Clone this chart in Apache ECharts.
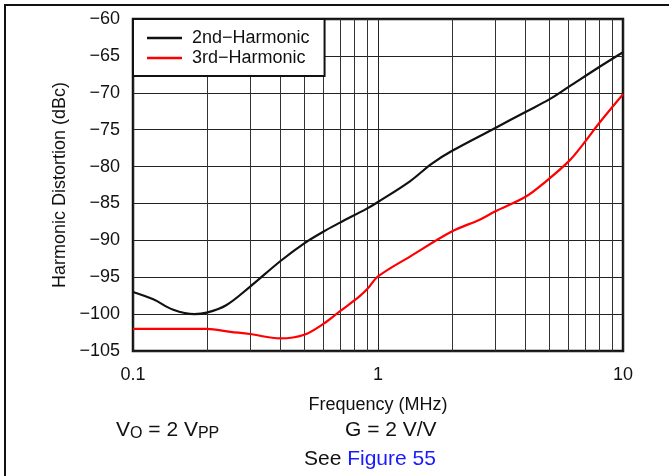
<!DOCTYPE html>
<html>
<head>
<meta charset="utf-8">
<script src="https://cdn.jsdelivr.net/npm/echarts@6/dist/echarts.min.js"></script>
<style>html,body{margin:0;padding:0;background:#fff}#c{width:669px;height:476px}</style>
</head>
<body>
<div id="c"></div>
<script>
// Frequency (MHz)
const freq2 = [0.1, 0.121, 0.146, 0.178, 0.2, 0.24, 0.3, 0.4, 0.5, 0.6, 0.7, 0.9, 1.0, 1.35, 1.66, 2.0, 3.0, 4.0, 5.0, 6.0, 8.0, 10];
const h2 = [-97.0, -98.0, -99.4, -100.0, -99.8, -98.8, -96.3, -92.8, -90.4, -88.8, -87.6, -85.7, -84.8, -82.0, -79.6, -77.9, -74.8, -72.6, -70.9, -69.2, -66.5, -64.5];
const freq3 = [0.1, 0.2, 0.25, 0.3, 0.4, 0.5, 0.6, 0.7, 0.84, 0.91, 1.0, 1.35, 2.0, 2.6, 3.0, 4.0, 4.85, 6.0, 6.9, 8.0, 10];
const h3 = [-102.0, -102.0, -102.4, -102.7, -103.3, -102.8, -101.3, -99.6, -97.6, -96.5, -94.9, -92.2, -88.8, -87.2, -86.1, -84.1, -82.0, -79.3, -76.9, -74.1, -70.2];
const minorGrid = [0.2, 0.3, 0.4, 0.5, 0.6, 0.7, 0.8, 0.9, 2, 3, 4, 5, 6, 7, 8, 9];
const seriesNames = ['2nd\u2212Harmonic', '3rd\u2212Harmonic'];
const yTicks = {min: -105, max: -60, step: 5};

const font = 'Liberation Sans, Arial, sans-serif';
const chart = echarts.init(document.getElementById('c'), null, {renderer: 'canvas'});
chart.setOption({
  animation: false,
  backgroundColor: '#fff',
  textStyle: {fontFamily: font},
  grid: {left: 133, top: 19, width: 490, height: 332, show: true, borderColor: '#111', borderWidth: 2.5, containLabel: false},
  legend: {
    orient: 'vertical', left: 133, top: 19,
    padding: [9, 15, 8, 14], itemGap: 0,
    itemWidth: 35, itemHeight: 2.5, icon: 'rect',
    backgroundColor: '#fff', borderColor: '#111', borderWidth: 2,
    textStyle: {fontFamily: font, fontSize: 18, color: '#111', lineHeight: 20, padding: [0, 0, 0, 5]},
    data: seriesNames
  },
  xAxis: {
    type: 'log', logBase: 10, min: 0.1, max: 10,
    name: 'Frequency (MHz)', nameLocation: 'middle', nameGap: 45,
    nameTextStyle: {fontFamily: font, fontSize: 18, color: '#111'},
    axisLine: {show: false}, axisTick: {show: false},
    axisLabel: {fontFamily: font, fontSize: 18, color: '#111', margin: 15,
      formatter: v => String(v)},
    splitLine: {show: true, lineStyle: {color: '#222', width: 1}}
  },
  yAxis: {
    type: 'value', min: yTicks.min, max: yTicks.max, interval: yTicks.step,
    name: 'Harmonic Distortion (dBc)', nameLocation: 'middle', nameGap: 62,
    nameTextStyle: {fontFamily: font, fontSize: 18, color: '#111'},
    axisLine: {show: false}, axisTick: {show: false},
    axisLabel: {fontFamily: font, fontSize: 18, color: '#111', margin: 13,
      formatter: v => String(v).replace('-', '\u2212')},
    splitLine: {show: true, lineStyle: {color: '#222', width: 1}}
  },
  series: [
    {
      name: seriesNames[0], type: 'line', smooth: 0.35, symbol: 'none', z: 5,
      lineStyle: {color: '#111', width: 2.2}, itemStyle: {color: '#111'},
      data: freq2.map((f, i) => [f, h2[i]]),
      markLine: {
        silent: true, symbol: 'none', animation: false, z: 1,
        label: {show: false},
        lineStyle: {color: '#333', width: 1, type: 'solid'},
        emphasis: {disabled: true},
        data: minorGrid.map(v => ({xAxis: v}))
      }
    },
    {
      name: seriesNames[1], type: 'line', smooth: 0.35, symbol: 'none', z: 5,
      lineStyle: {color: '#ff0000', width: 2.2}, itemStyle: {color: '#ff0000'},
      data: freq3.map((f, i) => [f, h3[i]])
    }
  ],
  graphic: [
    {type: 'polyline', shape: {points: [[5, 476], [5, 5], [669, 5]]}, style: {stroke: '#111', lineWidth: 2, fill: null}},
    {type: 'text', left: 116, top: 420, style: {
      rich: {
        a: {fontFamily: font, fontSize: 21, fill: '#111', lineHeight: 22},
        s: {fontFamily: font, fontSize: 16, fill: '#111', lineHeight: 12, verticalAlign: 'bottom'}
      },
      text: '{a|V}{s|O}{a| = 2 V}{s|PP}'
    }},
    {type: 'text', left: 345, top: 420, style: {text: 'G = 2 V/V', font: '21px ' + font, fill: '#111'}},
    {type: 'text', left: 304, top: 449, style: {
      rich: {
        a: {fontFamily: font, fontSize: 21, fill: '#111'},
        b: {fontFamily: font, fontSize: 21, fill: '#1a1aff'}
      },
      text: '{a|See }{b|Figure 55}'
    }}
  ]
});
</script>
</body>
</html>
